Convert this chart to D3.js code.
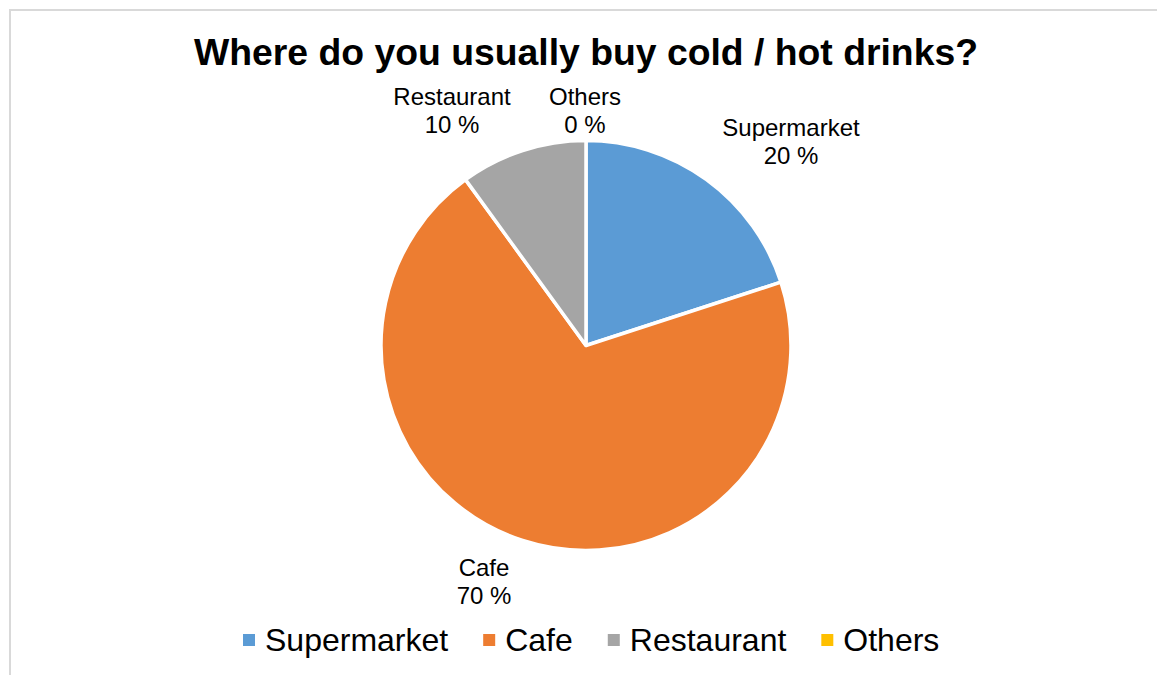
<!DOCTYPE html>
<html>
<head>
<meta charset="utf-8">
<script src="https://cdn.jsdelivr.net/npm/d3@7"></script>
<style>
  html, body { margin: 0; padding: 0; background: #ffffff; }
  svg { display: block; }
  text { font-family: "Liberation Sans", Arial, sans-serif; fill: #000; }
</style>
</head>
<body>
<svg id="chart" width="1157" height="675"></svg>
<script>
// Survey answers: where people usually buy drinks (percent of respondents)
const categories = ["Supermarket", "Cafe", "Restaurant", "Others"];
const shares = [20, 70, 10, 0];
const colors = ["#5B9BD5", "#ED7D31", "#A5A5A5", "#FFC000"];
const chartTitle = "Where do you usually buy cold / hot drinks?";

const svg = d3.select("#chart");
const W = 1157, H = 675;

// Chart area frame (runs past the right and bottom edges of the view)
svg.append("rect")
  .attr("x", 10).attr("y", 10)
  .attr("width", W + 10).attr("height", H + 10)
  .attr("fill", "#fff")
  .attr("stroke", "#d9d9d9")
  .attr("stroke-width", 2);

// Title
svg.append("text")
  .attr("x", 586).attr("y", 65)
  .attr("text-anchor", "middle")
  .style("font-size", "37.33px")
  .style("font-weight", "bold")
  .text(chartTitle);

// Pie
const cx = 586, cy = 345.5, radius = 205;
const data = categories.map((c, i) => ({ name: c, value: shares[i], color: colors[i] }));
const pie = d3.pie().sort(null).value(d => d.value);
const arc = d3.arc().innerRadius(0).outerRadius(radius);
const arcs = pie(data);

const g = svg.append("g").attr("transform", `translate(${cx},${cy})`);
g.selectAll("path.slice")
  .data(arcs.filter(a => a.data.value > 0))
  .join("path")
  .attr("class", "slice")
  .attr("d", arc)
  .attr("fill", d => d.data.color)
  .attr("stroke", "#ffffff")
  .attr("stroke-width", 3.5)
  .attr("stroke-linejoin", "round");

// Data labels: category name and percentage, placed outside the pie
const labelPos = {
  "Supermarket": [791, 136],
  "Cafe": [484, 576],
  "Restaurant": [452, 105],
  "Others": [585, 105]
};
const lineGap = 28;
const labels = svg.append("g");
data.forEach(d => {
  const [x, y] = labelPos[d.name];
  const t = labels.append("text")
    .attr("x", x).attr("y", y)
    .attr("text-anchor", "middle")
    .style("font-size", "24px");
  t.append("tspan").attr("x", x).attr("y", y).text(d.name);
  t.append("tspan").attr("x", x).attr("y", y + lineGap).text(`${d.value} %`);
});

// Legend, laid out left to right
const legend = svg.append("g");
const sq = 12, sqGap = 10, itemGap = 35, legendY = 651;
let lx = 243;
data.forEach(d => {
  legend.append("rect")
    .attr("x", lx).attr("y", legendY - 17)
    .attr("width", sq).attr("height", sq)
    .attr("fill", d.color);
  const t = legend.append("text")
    .attr("x", lx + sq + sqGap).attr("y", legendY)
    .style("font-size", "32px")
    .text(d.name);
  lx += sq + sqGap + t.node().getComputedTextLength() + itemGap;
});
</script>
</body>
</html>
